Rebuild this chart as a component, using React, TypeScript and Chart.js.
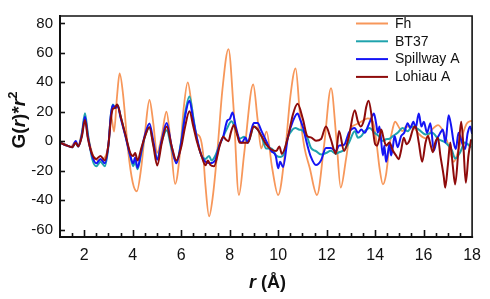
import React, { useEffect, useRef } from "react";
import { Chart, registerables } from "chart.js";

Chart.register(...registerables);

// ---- data ----
const seriesLabels = ["Fh", "BT37", "Spillway A", "Lohiau A"];
const xTickValues = [2, 4, 6, 8, 10, 12, 14, 16, 18];
const yTickValues = [-60, -40, -20, 0, 20, 40, 60, 80];

const fhR = [1.0, 1.2, 1.44, 1.6, 1.75, 1.9, 2.03, 2.2, 2.4, 2.6, 2.8, 3.0, 3.1, 3.23, 3.35, 3.46, 3.6, 3.8, 4.0, 4.17, 4.35, 4.5, 4.69, 4.85, 5.0, 5.2, 5.39, 5.55, 5.75, 5.95, 6.1, 6.27, 6.45, 6.6, 6.77, 6.9, 7.0, 7.15, 7.3, 7.5, 7.7, 7.95, 8.15, 8.38, 8.6, 8.97, 9.15, 9.3, 9.52, 9.75, 10.0, 10.3, 10.5, 10.72, 10.9, 11.08, 11.3, 11.6, 11.9, 12.18, 12.4, 12.58, 12.8, 13.0, 13.16, 13.43, 13.7, 13.91, 14.04, 14.18, 14.32, 14.45, 14.59, 14.73, 14.82, 15.0, 15.13, 15.27, 15.53, 15.8, 16.08, 16.35, 16.6, 16.83, 17.03, 17.24, 17.4, 17.6, 17.78, 18.0];
const fhG = [-1, -2, -4, -1, -3, 6, 15, 0, -11, -13, -12, -2, 18, 6.5, 30, 46, 32, -5, -28, -34, -18, 5, 28, 12, -8, 4, 20, 2, -29, -8, 22, 40, 22, 6, 3, -8, -30, -51, -38, -5, 35, 62.5, 25, -36.5, -8, 38.5, 15, -5, 6.5, -18, -36.5, -5, 30, 49.4, 18, -4, -18, -36.5, -2, 36, 2, -31.5, -12, 9, 11, 13.3, 15.5, 13.3, 1.3, -18, -29.3, -22.7, -3, 9, 13.3, 9, 6.8, 10, 10, 5, 2, 8, 11, 6, -3, -14, -8, 4, 12, 14];

const btR = [1.0, 1.3, 1.5, 1.65, 1.75, 1.9, 2.03, 2.15, 2.33, 2.5, 2.67, 2.85, 3.0, 3.1, 3.18, 3.28, 3.38, 3.5, 3.69, 3.9, 4.02, 4.1, 4.2, 4.35, 4.5, 4.69, 4.85, 5.01, 5.2, 5.4, 5.6, 5.8, 6.0, 6.15, 6.34, 6.5, 6.64, 6.84, 7.0, 7.15, 7.25, 7.4, 7.59, 7.73, 7.9, 8.07, 8.2, 8.41, 8.6, 8.75, 9.0, 9.15, 9.31, 9.51, 9.72, 9.92, 10.1, 10.25, 10.4, 10.6, 10.71, 10.85, 11.02, 11.2, 11.35, 11.56, 11.77, 11.97, 12.17, 12.38, 12.51, 12.72, 12.92, 13.16, 13.29, 13.43, 13.57, 13.77, 13.97, 14.15, 14.32, 14.45, 14.59, 14.73, 14.93, 15.13, 15.34, 15.53, 15.8, 16.08, 16.35, 16.62, 16.9, 17.17, 17.3, 17.51, 17.7, 17.96];
const btG = [-1, -3, -4, -1, -3.5, 5, 19, 5, -12, -17, -14, -17, -3, 18, 25, 22.5, 24.5, 17, 4.6, -10, -17, -14, -19, -8, 3, 9.5, -2, -12, 0, 7.5, -5, -14, 0, 18, 30.4, 16, 2.6, -10, -12, -10, -13, -10, -2, 3, 9, 13.5, 10, 1.7, 3, -1, 10, 8, 3.5, -5, -5, -9.6, -10.7, -8, 2.6, 8, 9, 8, 7, 2.6, -4.5, -6.7, -9, -8, -6.5, -8.5, -7.5, -6, -1, 6.8, 2.4, 3.5, 6.8, 9, 5.7, 3.5, 0.2, 1.3, 1.7, 3.5, 5.7, 9, 6.8, 10, 7.9, 4.6, 5.7, 1.3, -0.9, -6.3, -11.8, -7.4, -0.9, -4.2];

const spR = [1.0, 1.3, 1.5, 1.65, 1.75, 1.9, 2.03, 2.15, 2.33, 2.5, 2.67, 2.85, 3.0, 3.1, 3.18, 3.28, 3.38, 3.5, 3.69, 3.9, 4.02, 4.1, 4.2, 4.35, 4.5, 4.69, 4.85, 5.01, 5.2, 5.4, 5.6, 5.8, 6.0, 6.15, 6.34, 6.5, 6.64, 6.84, 7.0, 7.2, 7.4, 7.59, 7.73, 7.9, 8.0, 8.12, 8.25, 8.41, 8.5, 8.65, 8.75, 8.9, 9.0, 9.15, 9.31, 9.51, 9.72, 9.9, 10.0, 10.08, 10.2, 10.4, 10.6, 10.8, 10.9, 11.02, 11.2, 11.35, 11.56, 11.77, 11.97, 12.17, 12.38, 12.51, 12.72, 12.92, 13.16, 13.29, 13.43, 13.57, 13.7, 13.84, 13.95, 14.04, 14.11, 14.18, 14.32, 14.38, 14.45, 14.52, 14.59, 14.66, 14.73, 14.8, 14.93, 15.07, 15.2, 15.34, 15.45, 15.58, 15.67, 15.8, 15.91, 16.01, 16.14, 16.28, 16.42, 16.55, 16.69, 16.79, 16.9, 17.03, 17.14, 17.24, 17.33, 17.44, 17.58, 17.71, 17.82, 17.92, 18.0];
const spG = [-1, -3, -4, 0.2, -3.5, 4, 16.6, 3, -10, -15, -12, -15, -2, 18, 24.5, 22.5, 24, 16, 4, -10, -15, -11, -18, -7, 4, 12, 0, -12.5, 1, 12.3, -3, -15, -1, 16, 27.5, 14, 2.6, -10, -14, -15, -13, -2, 3, 14, 15, 19.5, 10, 0.4, -1, 2.6, -1, 8, 12.3, 12.3, 7, 0, -6.7, -10, -18.4, -14, -17.5, 2.6, 13.3, 18.8, 15, 9.6, -2.4, -10.7, -16.2, -12.9, -4.6, -4.6, -6.7, -3, -2.4, 6, 9, 5.7, 7.9, 5.7, 10, 15.5, 18.8, 12.2, 5.7, 10, -9.6, -3, -14, -8.5, -2, -9.6, -4, 3.5, -4, 3.5, 5.7, 12.2, 9, 13.3, 9, 18.8, 10, 13.3, 5.7, 12.2, -6.3, 1.3, 5.7, 7.9, -0.9, 17.7, 10, -0.9, -5.2, 5.7, -0.9, -5.2, 5.7, 10, 5];

const loR = [1.0, 1.3, 1.5, 1.65, 1.75, 1.9, 2.03, 2.15, 2.33, 2.5, 2.67, 2.85, 3.0, 3.1, 3.18, 3.25, 3.36, 3.5, 3.69, 3.9, 4.02, 4.1, 4.2, 4.35, 4.5, 4.69, 4.85, 5.01, 5.2, 5.4, 5.6, 5.8, 6.0, 6.15, 6.34, 6.5, 6.64, 6.84, 7.0, 7.1, 7.2, 7.35, 7.59, 7.73, 7.85, 7.95, 8.05, 8.17, 8.3, 8.41, 8.6, 8.75, 9.0, 9.15, 9.31, 9.51, 9.72, 9.92, 10.05, 10.15, 10.4, 10.6, 10.8, 11.02, 11.2, 11.35, 11.56, 11.77, 11.97, 12.17, 12.38, 12.51, 12.72, 12.92, 13.16, 13.29, 13.4, 13.54, 13.63, 13.73, 13.84, 13.91, 14.0, 14.08, 14.18, 14.25, 14.36, 14.45, 14.59, 14.73, 14.86, 14.97, 15.07, 15.18, 15.3, 15.41, 15.58, 15.67, 15.8, 15.94, 16.08, 16.18, 16.28, 16.38, 16.48, 16.59, 16.69, 16.83, 16.89, 17.0, 17.1, 17.2, 17.3, 17.44, 17.55, 17.64, 17.74, 17.85, 17.96];
const loG = [-1, -3, -4, -1, -3.5, 3, 14.4, 2, -9, -12, -10, -13, -2, 15, 22, 22.5, 25, 17, 5, -8, -10, -8, -13, -5, 3, 9.5, -3, -16.4, -1, 10, -3, -13, -4, 9, 20.3, 10, 0.4, -10, -16.3, -13, -16, -17, -3, 3, 1, 0, 6, 11, 5, -1, -1, -1, 10, 8, 3.5, -2.3, -5.6, -6.7, -3.5, -8.6, 2.6, 17.7, 25.4, 15, 3.5, 2.6, 0.4, 1.5, 10, 1.5, -8.6, 7, -6.7, 3.5, 21, 13.3, 10, 14.4, 23, 27.5, 18.8, 7.9, -2, -3, 2.4, 7.9, 1.3, -3, -0.9, -6.3, -9.6, -12.2, -6.3, 2.4, -2, 0.2, 9, 10, -0.9, -14, -0.9, 3.5, -2, -7.4, -0.9, 2.4, -9.6, -23.8, -31.5, -16.2, -0.9, -16.2, -29.3, -5.2, 13.3, -3, -28.2, -9.6, 1.3];

const seriesColors = ["#F7975A", "#1FA3AD", "#1414F5", "#8E0B0B"];
const seriesWidths = [1.8, 2, 2, 2];

const FONT = '"Liberation Sans", Arial, Helvetica, sans-serif';

const pts = (r: number[], g: number[]) => r.map((x, i) => ({ x, y: g[i] }));

const framePlugin = {
  id: "frame",
  afterDraw(chart: any) {
    const { ctx, chartArea: a } = chart;
    const xs = chart.scales.x;
    const ys = chart.scales.y;
    ctx.save();
    ctx.strokeStyle = "#111";
    ctx.lineCap = "butt";
    // top/right border
    ctx.lineWidth = 1.6;
    ctx.beginPath();
    ctx.moveTo(a.left, a.top);
    ctx.lineTo(a.right, a.top);
    ctx.lineTo(a.right, a.bottom);
    ctx.stroke();
    // axes
    ctx.lineWidth = 2;
    ctx.beginPath();
    ctx.moveTo(a.left, a.top - 1);
    ctx.lineTo(a.left, a.bottom);
    ctx.lineTo(a.right + 1, a.bottom);
    ctx.stroke();
    // x ticks (inward)
    ctx.lineWidth = 1.6;
    for (let v = xs.min + 0.5; v < xs.max; v += 0.5) {
      const px = Math.round(xs.getPixelForValue(v)) + 0.5;
      const major = xTickValues.includes(v);
      ctx.beginPath();
      ctx.moveTo(px, a.bottom);
      ctx.lineTo(px, a.bottom - (major ? 7 : 4));
      ctx.stroke();
    }
    // y ticks (inward)
    for (const v of yTickValues) {
      const py = Math.round(ys.getPixelForValue(v)) + 0.5;
      ctx.beginPath();
      ctx.moveTo(a.left, py);
      ctx.lineTo(a.left + 5, py);
      ctx.stroke();
    }
    // legend
    ctx.font = `14px ${FONT}`;
    ctx.textBaseline = "middle";
    ctx.textAlign = "left";
    chart.data.datasets.forEach((ds: any, i: number) => {
      const yy = 23.5 + i * 17.8;
      ctx.strokeStyle = ds.borderColor;
      ctx.lineWidth = 2;
      ctx.beginPath();
      ctx.moveTo(356, yy);
      ctx.lineTo(388, yy);
      ctx.stroke();
      ctx.fillStyle = "#111";
      ctx.fillText(ds.label, 395, yy + 0.5);
    });
    // x title: r (Å)
    ctx.fillStyle = "#111";
    ctx.textBaseline = "alphabetic";
    const fx = 18;
    const italic = `italic bold ${fx}px ${FONT}`;
    const bold = `bold ${fx}px ${FONT}`;
    ctx.font = italic;
    const w1 = ctx.measureText("r").width;
    ctx.font = bold;
    const w2 = ctx.measureText(" (Å)").width;
    let sx = 267.5 - (w1 + w2) / 2;
    ctx.font = italic;
    ctx.fillText("r", sx, 288);
    ctx.font = bold;
    ctx.fillText(" (Å)", sx + w1, 288);
    // y title: G(r)*r^2
    const fy = 19;
    const yItalic = `italic bold ${fy}px ${FONT}`;
    const yBold = `bold ${fy}px ${FONT}`;
    const ySup = `bold ${Math.round(fy * 0.68)}px ${FONT}`;
    const parts: [string, string, number][] = [
      ["G(", yBold, 0],
      ["r", yItalic, 0],
      [")*", yBold, 0],
      ["r", yItalic, 0],
      ["2", ySup, -8],
    ];
    let total = 0;
    const widths = parts.map(([t, f]) => {
      ctx.font = f;
      const w = ctx.measureText(t).width;
      total += w;
      return w;
    });
    ctx.translate(25, 120);
    ctx.rotate(-Math.PI / 2);
    let cx = -total / 2;
    parts.forEach(([t, f, dy], i) => {
      ctx.font = f;
      ctx.fillText(t, cx, dy);
      cx += widths[i];
    });
    ctx.restore();
  },
};

export default function App() {
  const ref = useRef<HTMLCanvasElement>(null);
  useEffect(() => {
    if (!ref.current) return;
    const series = [pts(fhR, fhG), pts(btR, btG), pts(spR, spG), pts(loR, loG)];
    const chart = new Chart(ref.current, {
      type: "line",
      data: {
        datasets: series.map((d, i) => ({
          label: seriesLabels[i],
          data: d,
          borderColor: seriesColors[i],
          backgroundColor: seriesColors[i],
          borderWidth: seriesWidths[i],
          pointRadius: 0,
          fill: false,
          cubicInterpolationMode: "monotone" as const,
          order: 4 - i,
        })),
      },
      options: {
        animation: false,
        responsive: true,
        maintainAspectRatio: false,
        layout: { padding: { top: 7, right: 16, left: 0, bottom: 0 } },
        plugins: { legend: { display: false }, tooltip: { enabled: false } },
        scales: {
          x: {
            type: "linear",
            min: 1,
            max: 18,
            grid: { display: false, drawTicks: false },
            border: { display: false },
            afterBuildTicks: (s: any) => {
              s.ticks = xTickValues.map((v) => ({ value: v }));
            },
            afterFit: (s: any) => {
              s.height = 62;
            },
            ticks: {
              color: "#111",
              font: { family: FONT, size: 16 },
              padding: 9,
              maxRotation: 0,
              autoSkip: false,
            },
          },
          y: {
            type: "linear",
            min: -65,
            max: 85,
            grid: { display: false, drawTicks: false },
            border: { display: false },
            afterBuildTicks: (s: any) => {
              s.ticks = yTickValues.map((v) => ({ value: v }));
            },
            afterFit: (s: any) => {
              s.width = 60;
            },
            ticks: {
              color: "#111",
              font: { family: FONT, size: 15 },
              padding: 7,
              autoSkip: false,
            },
          },
        },
      },
      plugins: [framePlugin],
    });
    return () => chart.destroy();
  }, []);
  return (
    <div style={{ position: "fixed", left: 0, top: 0, width: 490, height: 299, background: "#fff" }}>
      <canvas ref={ref} />
    </div>
  );
}
